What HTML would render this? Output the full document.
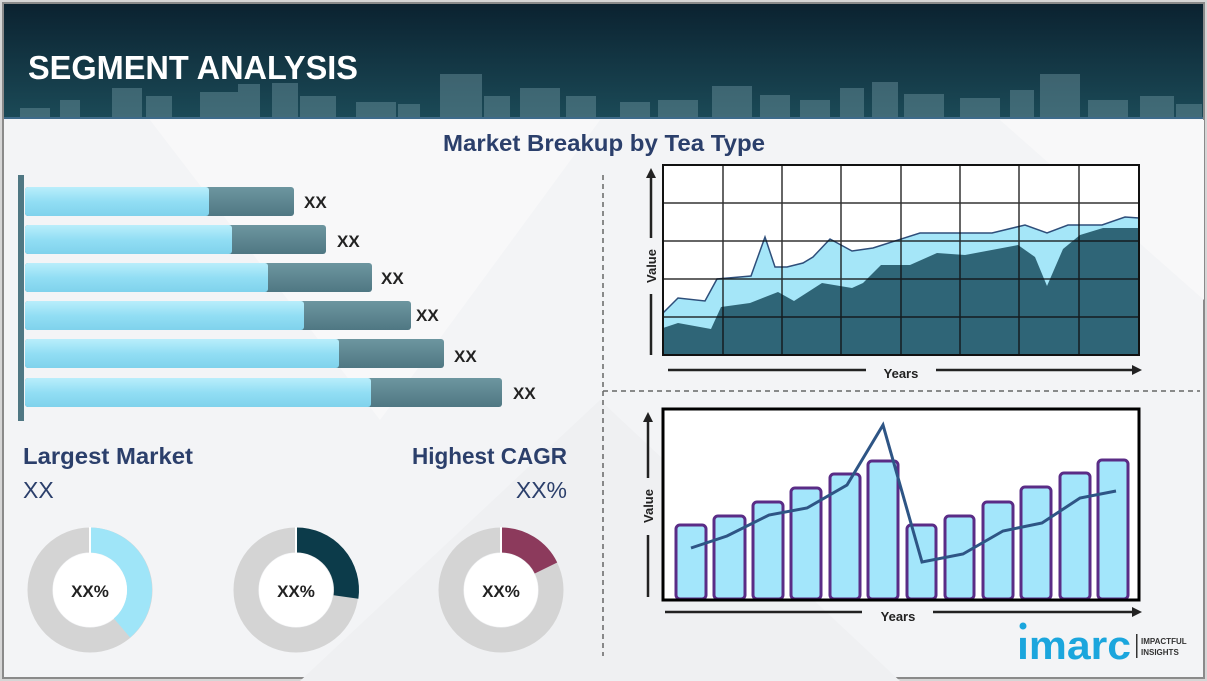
<!DOCTYPE html>
<html><head><meta charset="utf-8"><style>
html,body{margin:0;padding:0;background:#fff}
svg{display:block}
text{font-family:"Liberation Sans",sans-serif}
</style></head><body>
<svg width="1207" height="681" viewBox="0 0 1207 681" xmlns="http://www.w3.org/2000/svg">
<defs>
<linearGradient id="hd" x1="0" y1="0" x2="0" y2="1"><stop offset="0" stop-color="#0b2230"/><stop offset="1" stop-color="#1b4a57"/></linearGradient>
<linearGradient id="lb" x1="0" y1="0" x2="0" y2="1"><stop offset="0" stop-color="#b9eefb"/><stop offset="0.5" stop-color="#92def4"/><stop offset="1" stop-color="#7fd2ec"/></linearGradient>
<linearGradient id="db" x1="0" y1="0" x2="0" y2="1"><stop offset="0" stop-color="#6d96a0"/><stop offset="1" stop-color="#4f7783"/></linearGradient>
</defs>
<rect x="0" y="0" width="1207" height="681" fill="#d6d6d6"/>
<rect x="3" y="3" width="1201" height="675" fill="#f3f4f6" stroke="#8a8a8a" stroke-width="2"/>
<polygon points="150,120 600,120 380,420" fill="#f8f8f9"/>
<polygon points="600,400 900,681 300,681" fill="#eff0f2"/>
<polygon points="1000,120 1204,300 1204,120" fill="#f8f8f9"/>
<!-- header -->
<rect x="4" y="4" width="1199" height="114" fill="url(#hd)"/>
<g fill="#6f95a0" opacity="0.45">
<rect x="20" y="108" width="30" height="10"/><rect x="60" y="100" width="20" height="18"/><rect x="112" y="88" width="30" height="30"/><rect x="146" y="96" width="26" height="22"/><rect x="200" y="92" width="40" height="26"/><rect x="238" y="84" width="22" height="34"/><rect x="272" y="83" width="26" height="35"/><rect x="300" y="96" width="36" height="22"/><rect x="356" y="102" width="40" height="16"/><rect x="398" y="104" width="22" height="14"/><rect x="440" y="74" width="42" height="44"/><rect x="484" y="96" width="26" height="22"/><rect x="520" y="88" width="40" height="30"/><rect x="566" y="96" width="30" height="22"/><rect x="620" y="102" width="30" height="16"/><rect x="658" y="100" width="40" height="18"/><rect x="712" y="86" width="40" height="32"/><rect x="760" y="95" width="30" height="23"/><rect x="800" y="100" width="30" height="18"/><rect x="840" y="88" width="24" height="30"/><rect x="872" y="82" width="26" height="36"/><rect x="904" y="94" width="40" height="24"/><rect x="960" y="98" width="40" height="20"/><rect x="1010" y="90" width="24" height="28"/><rect x="1040" y="74" width="40" height="44"/><rect x="1088" y="100" width="40" height="18"/><rect x="1140" y="96" width="34" height="22"/><rect x="1176" y="104" width="26" height="14"/>
</g>
<rect x="4" y="117" width="1199" height="2" fill="#3d6a8a"/>
<text x="28" y="79" font-size="33" font-weight="bold" fill="#fff" textLength="330" lengthAdjust="spacingAndGlyphs">SEGMENT ANALYSIS</text>
<text x="443" y="151" font-size="23" font-weight="bold" fill="#2b3f6b" textLength="322" lengthAdjust="spacingAndGlyphs">Market Breakup by Tea Type</text>
<!-- dashed dividers -->
<line x1="603" y1="175" x2="603" y2="656" stroke="#666" stroke-width="1.5" stroke-dasharray="5,4"/>
<line x1="603" y1="391" x2="1200" y2="391" stroke="#666" stroke-width="1.5" stroke-dasharray="5,4"/>
<!-- horizontal bars -->
<rect x="18" y="175" width="6" height="246" fill="#4f7783"/>
<g>
<rect x="25" y="187" width="269" height="29" rx="3" fill="url(#db)"/><rect x="25" y="187" width="184" height="29" rx="3" fill="url(#lb)"/><text x="304" y="208" font-size="17" font-weight="bold" fill="#222">XX</text>
<rect x="25" y="225" width="301" height="29" rx="3" fill="url(#db)"/><rect x="25" y="225" width="207" height="29" rx="3" fill="url(#lb)"/><text x="337" y="247" font-size="17" font-weight="bold" fill="#222">XX</text>
<rect x="25" y="263" width="347" height="29" rx="3" fill="url(#db)"/><rect x="25" y="263" width="243" height="29" rx="3" fill="url(#lb)"/><text x="381" y="284" font-size="17" font-weight="bold" fill="#222">XX</text>
<rect x="25" y="301" width="386" height="29" rx="3" fill="url(#db)"/><rect x="25" y="301" width="279" height="29" rx="3" fill="url(#lb)"/><text x="416" y="321" font-size="17" font-weight="bold" fill="#222">XX</text>
<rect x="25" y="339" width="419" height="29" rx="3" fill="url(#db)"/><rect x="25" y="339" width="314" height="29" rx="3" fill="url(#lb)"/><text x="454" y="362" font-size="17" font-weight="bold" fill="#222">XX</text>
<rect x="25" y="378" width="477" height="29" rx="3" fill="url(#db)"/><rect x="25" y="378" width="346" height="29" rx="3" fill="url(#lb)"/><text x="513" y="399" font-size="17" font-weight="bold" fill="#222">XX</text>
</g>
<!-- labels -->
<text x="23" y="464" font-size="23" font-weight="bold" fill="#2b3f6b" textLength="170" lengthAdjust="spacingAndGlyphs">Largest Market</text>
<text x="23" y="498" font-size="23" fill="#2b3f6b">XX</text>
<text x="412" y="464" font-size="23" font-weight="bold" fill="#2b3f6b" textLength="155" lengthAdjust="spacingAndGlyphs">Highest CAGR</text>
<text x="567" y="498" font-size="23" fill="#2b3f6b" text-anchor="end">XX%</text>
<!-- donuts -->
<g stroke-width="25" fill="none">
<circle cx="90" cy="590" r="50" stroke="#d4d4d4"/>
<path d="M90,540 A50,50 0 0 1 122,628" stroke="#9fe5f8"/>
<circle cx="296" cy="590" r="50" stroke="#d4d4d4"/>
<path d="M296,540 A50,50 0 0 1 346,597" stroke="#0c3b4a"/>
<circle cx="501" cy="590" r="50" stroke="#d4d4d4"/>
<path d="M501,540 A50,50 0 0 1 546,568" stroke="#8c3a5c"/>
</g>
<g stroke="#fff" stroke-width="2"><line x1="90" y1="527" x2="90" y2="553"/><line x1="296" y1="527" x2="296" y2="553"/><line x1="501" y1="527" x2="501" y2="553"/></g>
<circle cx="90" cy="590" r="37" fill="#fff"/><circle cx="296" cy="590" r="37" fill="#fff"/><circle cx="501" cy="590" r="37" fill="#fff"/>
<text x="90" y="597" font-size="17" font-weight="bold" fill="#222" text-anchor="middle">XX%</text>
<text x="296" y="597" font-size="17" font-weight="bold" fill="#222" text-anchor="middle">XX%</text>
<text x="501" y="597" font-size="17" font-weight="bold" fill="#222" text-anchor="middle">XX%</text>
<!-- area chart -->
<rect x="663" y="165" width="476" height="190" fill="#fff"/>
<polygon fill="#a5e6f8" points="663,313 678,298 705,301 717,279 751,276 765,237 775,267 787,267 803,263 813,257 830,239 852,251 873,248 920,233 992,233 1025,225 1047,233 1068,225 1102,225 1125,217 1139,218 1139,355 663,355"/>
<polyline fill="none" stroke="#2e4e7a" stroke-width="1.5" points="663,313 678,298 705,301 717,279 751,276 765,237 775,267 787,267 803,263 813,257 830,239 852,251 873,248 920,233 992,233 1025,225 1047,233 1068,225 1102,225 1125,217 1139,218"/>
<polygon fill="#2f6577" points="663,328 678,323 711,329 721,307 750,303 778,292 794,301 822,283 852,288 863,283 881,265 910,265 937,253 965,255 1018,245 1035,257 1047,286 1063,249 1080,235 1103,228 1139,228 1139,355 663,355"/>
<g stroke="#111" stroke-width="1.5" opacity="0.85">
<line x1="723" y1="165" x2="723" y2="355"/><line x1="782" y1="165" x2="782" y2="355"/><line x1="841" y1="165" x2="841" y2="355"/><line x1="901" y1="165" x2="901" y2="355"/><line x1="960" y1="165" x2="960" y2="355"/><line x1="1019" y1="165" x2="1019" y2="355"/><line x1="1079" y1="165" x2="1079" y2="355"/>
<line x1="663" y1="203" x2="1139" y2="203"/><line x1="663" y1="241" x2="1139" y2="241"/><line x1="663" y1="279" x2="1139" y2="279"/><line x1="663" y1="317" x2="1139" y2="317"/>
</g>
<rect x="663" y="165" width="476" height="190" fill="none" stroke="#111" stroke-width="2"/>
<line x1="651" y1="355" x2="651" y2="294" stroke="#222" stroke-width="2.5"/><line x1="651" y1="238" x2="651" y2="176" stroke="#222" stroke-width="2.5"/>
<polygon points="646,178 656,178 651,168" fill="#222"/>
<text x="656" y="266" font-size="13" font-weight="bold" fill="#222" text-anchor="middle" transform="rotate(-90 656 266)">Value</text>
<line x1="668" y1="370" x2="866" y2="370" stroke="#222" stroke-width="2.5"/><line x1="936" y1="370" x2="1134" y2="370" stroke="#222" stroke-width="2.5"/>
<polygon points="1132,365 1142,370 1132,375" fill="#222"/>
<text x="901" y="378" font-size="13" font-weight="bold" fill="#222" text-anchor="middle">Years</text>
<!-- bar chart -->
<rect x="663" y="409" width="476" height="191" fill="#fff"/>
<g fill="#a3e6fb" stroke="#5a2c86" stroke-width="3">
<rect x="676" y="525" width="30" height="74" rx="4"/><rect x="714" y="516" width="31" height="83" rx="4"/><rect x="753" y="502" width="30" height="97" rx="4"/><rect x="791" y="488" width="30" height="111" rx="4"/><rect x="830" y="474" width="30" height="125" rx="4"/><rect x="868" y="461" width="30" height="138" rx="4"/><rect x="907" y="525" width="29" height="74" rx="4"/><rect x="945" y="516" width="29" height="83" rx="4"/><rect x="983" y="502" width="30" height="97" rx="4"/><rect x="1021" y="487" width="30" height="112" rx="4"/><rect x="1060" y="473" width="30" height="126" rx="4"/><rect x="1098" y="460" width="30" height="139" rx="4"/>
</g>
<polyline fill="none" stroke="#2e5585" stroke-width="3" points="691,548 727,536 769,515 807,508 847,485 883,425 922,562 963,554 1003,531 1042,523 1080,498 1116,491"/>
<rect x="663" y="409" width="476" height="191" fill="none" stroke="#000" stroke-width="3"/>
<line x1="648" y1="597" x2="648" y2="535" stroke="#222" stroke-width="2.5"/><line x1="648" y1="478" x2="648" y2="420" stroke="#222" stroke-width="2.5"/>
<polygon points="643,422 653,422 648,412" fill="#222"/>
<text x="653" y="506" font-size="13" font-weight="bold" fill="#222" text-anchor="middle" transform="rotate(-90 653 506)">Value</text>
<line x1="665" y1="612" x2="862" y2="612" stroke="#222" stroke-width="2.5"/><line x1="933" y1="612" x2="1134" y2="612" stroke="#222" stroke-width="2.5"/>
<polygon points="1132,607 1142,612 1132,617" fill="#222"/>
<text x="898" y="621" font-size="13" font-weight="bold" fill="#222" text-anchor="middle">Years</text>
<!-- logo -->
<circle cx="1023" cy="626" r="3.5" fill="#1ba6dd"/>
<text x="1017" y="659" font-size="40" font-weight="bold" fill="#1ba6dd" textLength="114" lengthAdjust="spacingAndGlyphs">ımarc</text>
<rect x="1136" y="634" width="1.5" height="24" fill="#333"/>
<text x="1141" y="644" font-size="8" font-weight="bold" fill="#333">IMPACTFUL</text>
<text x="1141" y="655" font-size="8" font-weight="bold" fill="#333">INSIGHTS</text>
</svg>
</body></html>
